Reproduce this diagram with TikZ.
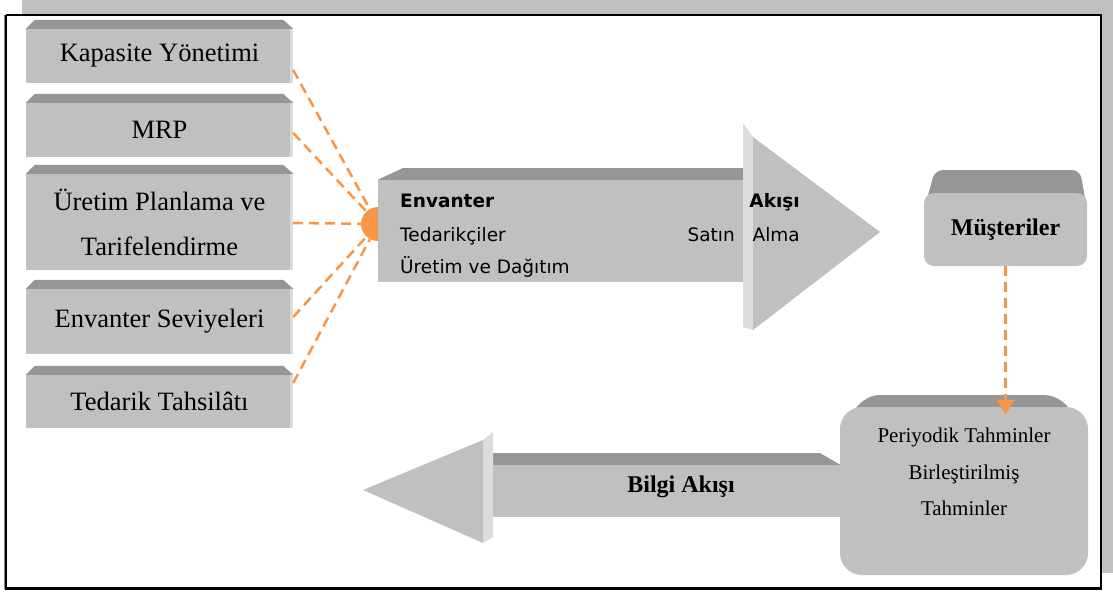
\documentclass[tikz,border=0pt]{standalone}
\usepackage{fontspec}
\setmainfont{Liberation Serif}
\newfontfamily\flowfont{DejaVu Sans}
\usetikzlibrary{arrows.meta,calc}
\definecolor{facegray}{HTML}{C0C0C0}
\definecolor{topgray}{HTML}{969696}
\definecolor{sidegray}{HTML}{DCDCDC}
\definecolor{linkorange}{HTML}{F79646}

% darker top face and light right edge of a slab-shaped node
\newcommand\slabtop[1]{%
  \fill[topgray] (#1.north west) -- ++(9,-9) -- ($(#1.north east)+(-10,-9)$) -- (#1.north east) -- cycle;
  \fill[sidegray] ($(#1.north east)+(-3,0)$) rectangle (#1.south east);}

\begin{document}
\begin{tikzpicture}[x=1pt,y=-1pt,
  slab/.style={fill=facegray, minimum width=267pt, inner sep=0pt,
    font=\fontsize{26.5}{45}\selectfont, align=center},
  hub/.style={circle, fill=linkorange, minimum size=34pt, inner sep=0pt},
  link/.style={draw=linkorange, line width=2.5pt, dash pattern=on 10pt off 6pt},
  flowtxt/.style={inner sep=0pt, font=\flowfont\fontsize{18.5}{20}\selectfont},
  serifbold/.style={inner sep=0pt, font=\fontsize{24}{28}\selectfont\bfseries},
  serifsmall/.style={inner sep=0pt, font=\fontsize{21}{36.5}\selectfont, align=center}]
\useasboundingbox (0,0) rectangle (1113,594);

% page frame with its grey border band
\fill[white] (0,0) rectangle (1113,594);
\fill[facegray] (22,0) rectangle (1113,14);
\fill[facegray] (1101,0) rectangle (1113,573);
\draw[line width=1.5pt] (6,15) -- (1100.5,15);
\draw[line width=2pt] (6,15) -- (6,588.5);
\draw[gray, line width=0.8pt] (4.5,15) -- (4.5,588.5);
\draw[line width=2.5pt] (5,588.5) -- (1101.5,588.5);
\draw[line width=2pt] (1100.5,14.5) -- (1100.5,589);

% left column of planning slabs
\node[slab, minimum height=54pt] (cap) at (159.5,56) {Kapasite Yönetimi};
\node[slab, minimum height=54pt] (mrp) at (159.5,130) {MRP};
\node[slab, minimum height=96pt] (plan) at (159.5,222) {Üretim Planlama ve\\Tarifelendirme};
\node[slab, minimum height=65pt] (lvl) at (159.5,321.5) {Envanter Seviyeleri};
\node[slab, minimum height=53pt] (sup) at (159.5,401.5) {Tedarik Tahsilâtı};
\foreach \s in {cap,mrp,plan,lvl,sup}{\slabtop{\s}}

% inventory flow arrow with its orange hub
\node[hub] (hub) at (378,224) {};
\node[fill=facegray, minimum width=375pt, minimum height=102pt, inner sep=0pt] (inv) at (565.5,231) {};
\fill[topgray] (inv.north west) -- (403,168) -- (743,168) -- (inv.north east) -- cycle;
\fill[sidegray] (743,123) -- (753,137) -- (753,330) -- (743,327) -- cycle;
\fill[facegray] (753,137) -- (880,232) -- (753,330) -- cycle;
\node[flowtxt, anchor=base west] (t1) at (400,207) {\bfseries Envanter};
\node[flowtxt, anchor=base east] (t2) at (800,207) {\bfseries Akışı};
\node[flowtxt, anchor=base west] (t3) at (400,241) {Tedarikçiler};
\node[flowtxt, anchor=base east] (t4) at (800,241) {Satın\hspace{12pt} Alma};
\node[flowtxt, anchor=base west] (t5) at (400,273) {Üretim ve Dağıtım};

% dashed links from the slabs to the hub
\draw[link] ([yshift=-14pt]cap.east) -- (hub);
\draw[link] ([yshift=-3pt]mrp.east) -- (hub);
\draw[link] ([yshift=-1pt]plan.east) -- (hub);
\draw[link] ([yshift=4.5pt]lvl.east) -- (hub);
\draw[link] ([yshift=18.5pt]sup.east) -- (hub);

% customers
\fill[topgray, rounded corners=8pt] (924,210) -- (935,170) -- (1080,170) -- (1087,210) -- cycle;
\node[fill=facegray, rounded corners=10pt, minimum width=163pt, minimum height=73pt,
  inner sep=0pt, font=\fontsize{24}{28}\selectfont\bfseries] (cust) at (1005.5,229.5) {Müşteriler};

% information flow arrow
\node[fill=facegray, minimum width=355pt, minimum height=52pt, inner sep=0pt] (info) at (662.5,491) {};
\fill[topgray] (info.north west) -- (493,453) -- (820,453) -- (info.north east) -- cycle;
\fill[sidegray] (483,440) -- (493,432) -- (493,537) -- (483,543) -- cycle;
\fill[facegray] (483,440) -- (363,490) -- (483,543) -- cycle;
\node[serifbold] (infotxt) at (681,487) {Bilgi Akışı};

% forecasts
\fill[topgray, rounded corners=22pt] (840,460) -- (858,395) -- (1066,395) -- (1088,460) -- cycle;
\node[fill=facegray, rounded corners=22pt, minimum width=248pt, minimum height=168pt, inner sep=0pt] (fc) at (964,491) {};
\node[serifsmall] (fctxt) at (964,472) {Periyodik Tahminler\\Birleştirilmiş\\Tahminler};

% customers feed the forecasts
\draw[link, -{Triangle[width=17pt,length=15pt]}, shorten >=-8pt] (cust.south) -- (cust.south |- fc.north);
\end{tikzpicture}
\end{document}
